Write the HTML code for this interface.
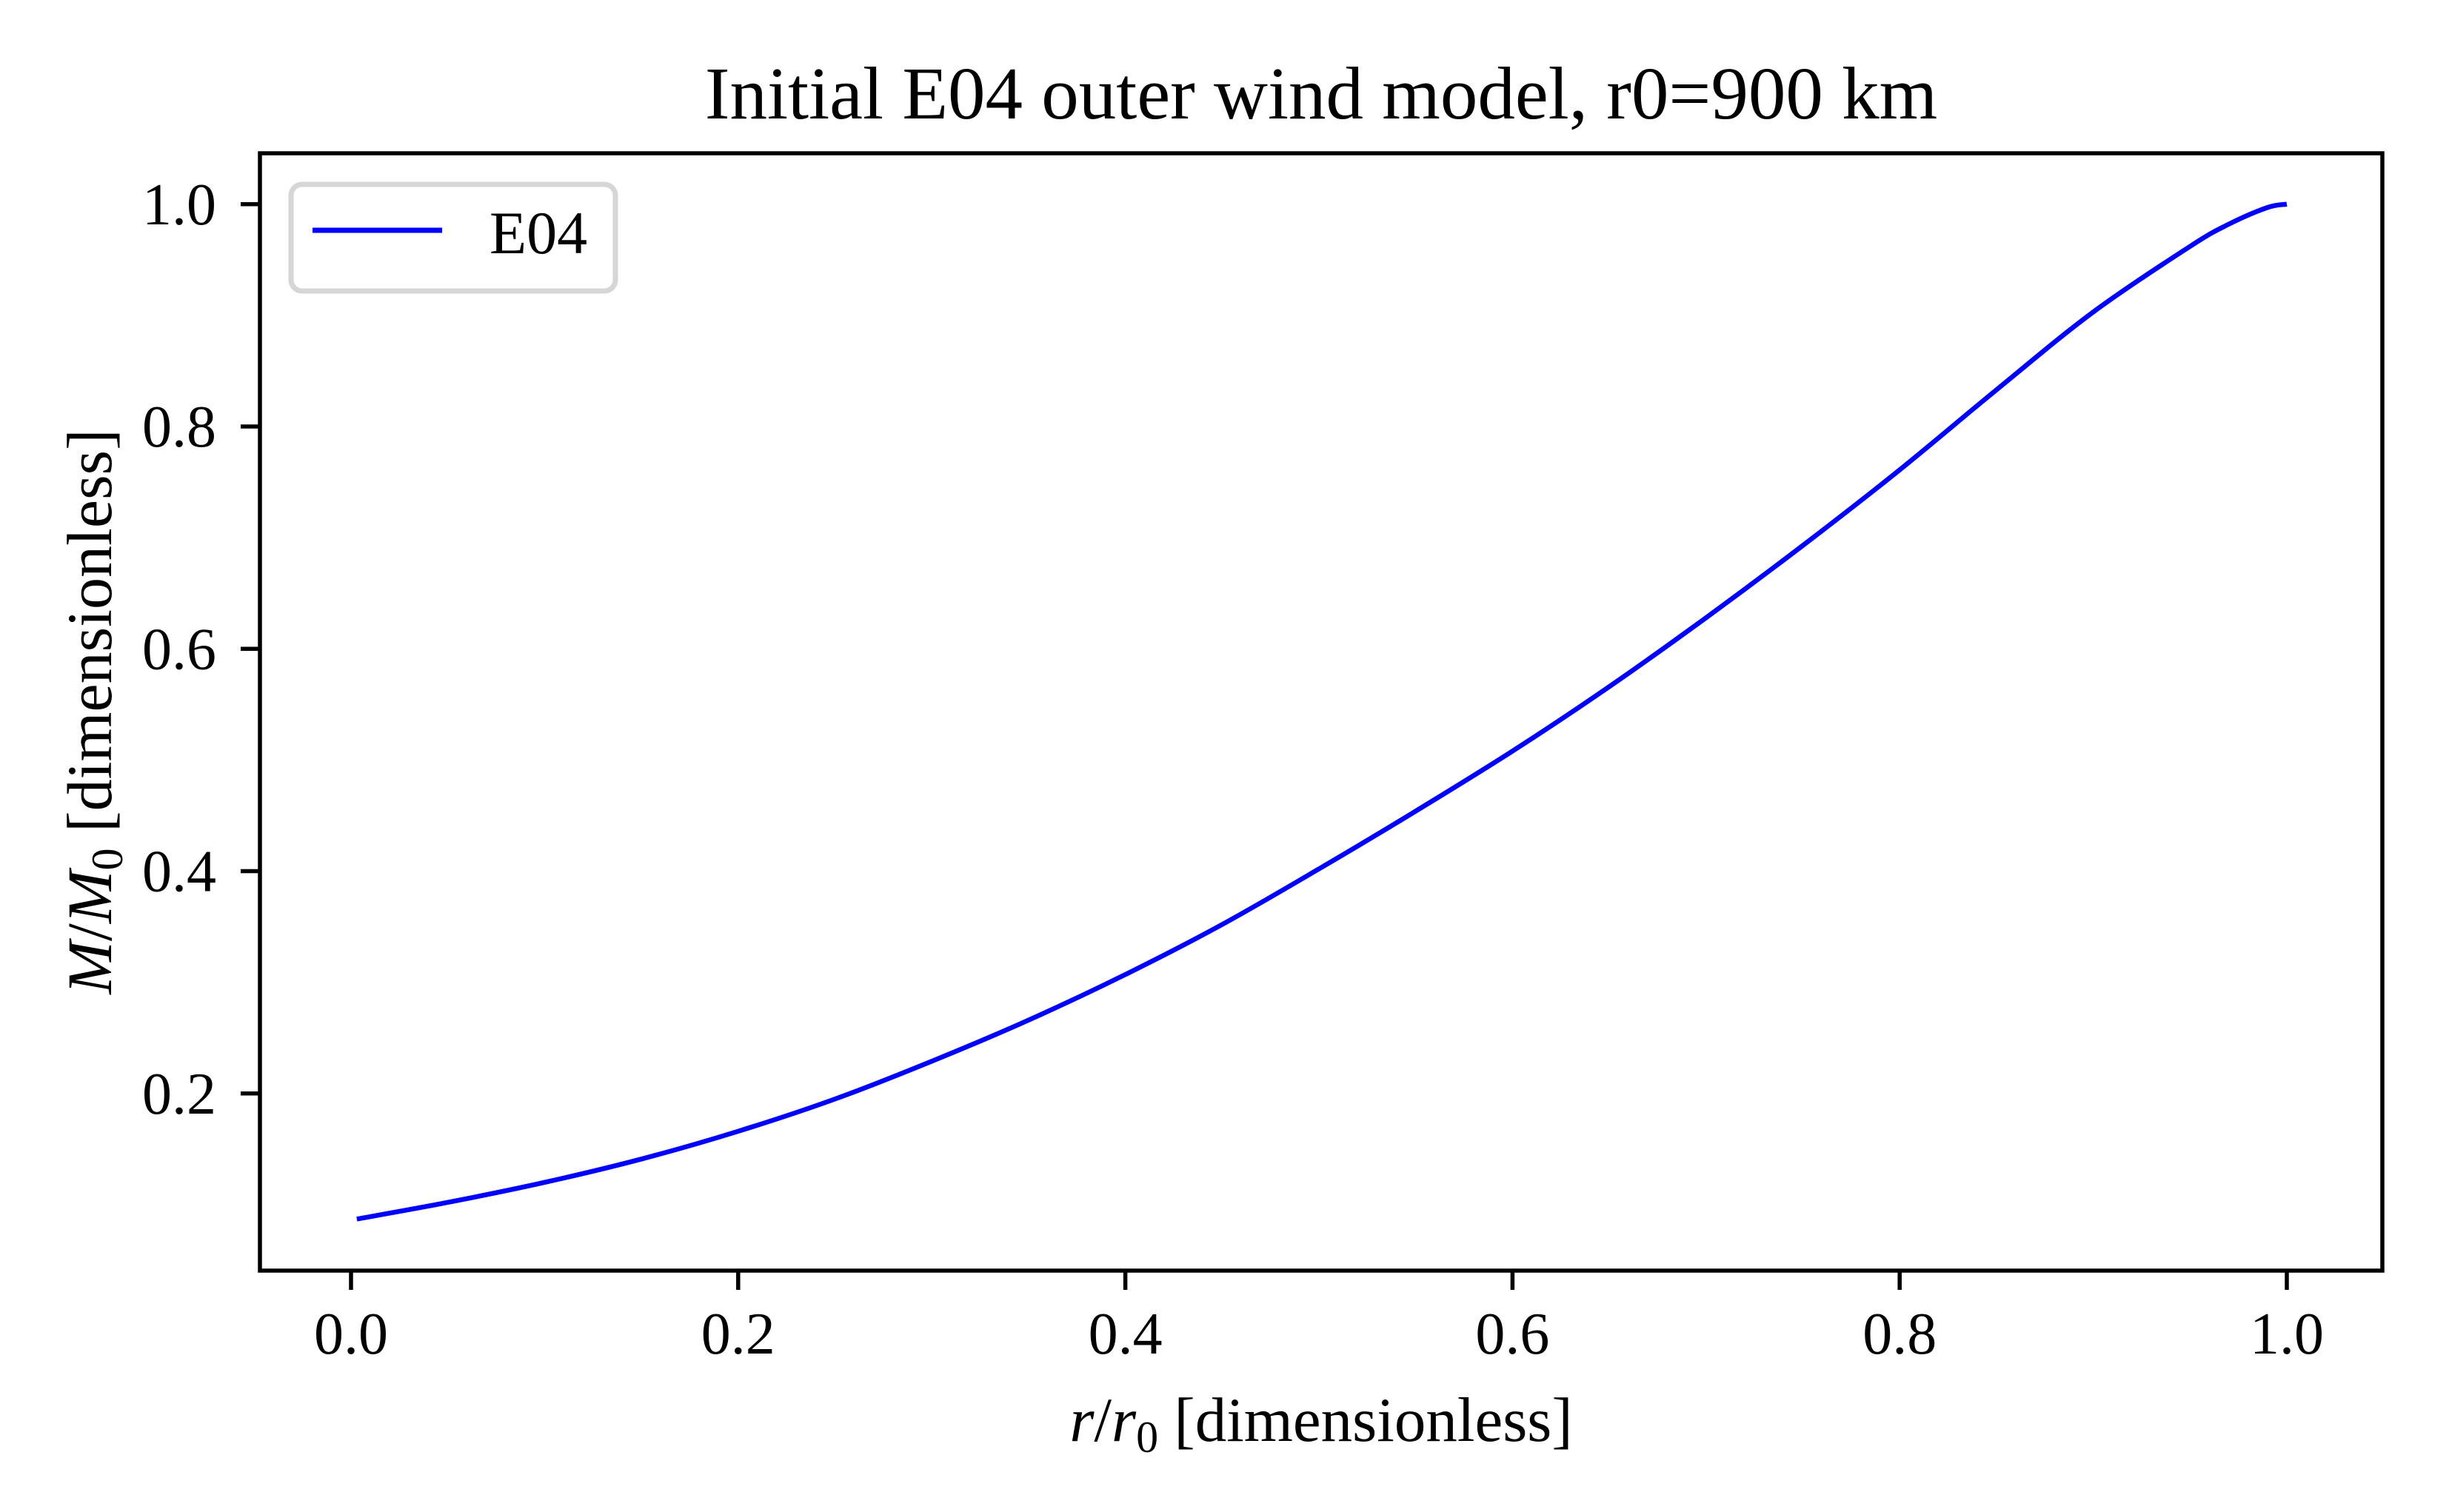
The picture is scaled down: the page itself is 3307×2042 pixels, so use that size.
<!DOCTYPE html>
<html><head><meta charset="utf-8"><style>
html,body{margin:0;padding:0;background:#fff;}
svg{display:block;font-family:"Liberation Serif",serif;}
</style></head><body>
<svg id="chart" width="3307" height="2042" viewBox="0 0 3307 2042" xmlns="http://www.w3.org/2000/svg">
<rect width="3307" height="2042" fill="#fff"/>
<text x="1784" y="160" font-size="101" text-anchor="middle">Initial E04 outer wind model, r0=900 km</text>
<g id="plot"></g>
<g id="axes"></g>
<text x="1784" y="1946" font-size="85" text-anchor="middle"><tspan font-style="italic">r</tspan>/<tspan font-style="italic">r</tspan><tspan font-size="60" dy="15">0</tspan><tspan dy="-15"> [dimensionless]</tspan></text>
<text transform="translate(150,961) rotate(-90)" font-size="86" text-anchor="middle"><tspan font-style="italic">M</tspan>/<tspan font-style="italic">M</tspan><tspan font-size="60" dy="15">0</tspan><tspan dy="-15"> [dimensionless]</tspan></text>
<g>
<rect x="393" y="249" width="438" height="144" rx="15" fill="#fff" stroke="#d6d6d6" stroke-width="7"/>
<line x1="422" y1="311" x2="597" y2="311" stroke="#0000ff" stroke-width="7"/>
<text x="661" y="342" font-size="82">E04</text>
</g>
</svg>
<script>
const xValues=[0.003,0.05,0.1,0.15,0.2,0.25,0.3,0.35,0.4,0.45,0.5,0.55,0.6,0.65,0.7,0.75,0.8,0.85,0.9,0.95,0.97,0.99,1.0];
const yValues=[0.087,0.102,0.12,0.141,0.166,0.195,0.229,0.266,0.307,0.352,0.402,0.454,0.508,0.566,0.628,0.693,0.761,0.833,0.903,0.962,0.982,0.997,1.0];
const xTicks=[0.0,0.2,0.4,0.6,0.8,1.0];
const yTicks=[0.2,0.4,0.6,0.8,1.0];
const xTickLabels=["0.0","0.2","0.4","0.6","0.8","1.0"];
const yTickLabels=["0.2","0.4","0.6","0.8","1.0"];
const L=351,R=3217,T=207,B=1716;
function sx(v){return 474+v*(3088-474);}
function sy(v){return 1777-v*1501.25;}
const NS="http://www.w3.org/2000/svg";
const plot=document.getElementById('plot');
const axes=document.getElementById('axes');
const pts=xValues.map((x,i)=>[sx(x),sy(yValues[i])]);
let d="M"+pts[0][0]+","+pts[0][1];
for(let i=0;i<pts.length-1;i++){
  const p0=pts[Math.max(0,i-1)],p1=pts[i],p2=pts[i+1],p3=pts[Math.min(pts.length-1,i+2)];
  const c1x=p1[0]+(p2[0]-p0[0])/6,c1y=p1[1]+(p2[1]-p0[1])/6;
  const c2x=p2[0]-(p3[0]-p1[0])/6,c2y=p2[1]-(p3[1]-p1[1])/6;
  d+=" C"+c1x+","+c1y+" "+c2x+","+c2y+" "+p2[0]+","+p2[1];
}
const path=document.createElementNS(NS,'path');
path.setAttribute('d',d);path.setAttribute('fill','none');path.setAttribute('stroke','#0000ff');path.setAttribute('stroke-width','6.5');


plot.appendChild(path);
const frame=document.createElementNS(NS,'rect');
frame.setAttribute('x',L);frame.setAttribute('y',T);frame.setAttribute('width',R-L);frame.setAttribute('height',B-T);
frame.setAttribute('fill','none');frame.setAttribute('stroke','#000');frame.setAttribute('stroke-width','5.5');


axes.appendChild(frame);
xTicks.forEach((v,i)=>{
  const t=document.createElementNS(NS,'line');
  t.setAttribute('x1',sx(v));t.setAttribute('x2',sx(v));t.setAttribute('y1',B);t.setAttribute('y2',B+26);
  t.setAttribute('stroke','#000');t.setAttribute('stroke-width','5.5');
  
  
  axes.appendChild(t);
  const tx=document.createElementNS(NS,'text');
  tx.setAttribute('x',sx(v));tx.setAttribute('y',1828);tx.setAttribute('font-size','80');tx.setAttribute('text-anchor','middle');
  tx.textContent=xTickLabels[i];
  
  
  axes.appendChild(tx);
});
yTicks.forEach((v,i)=>{
  const t=document.createElementNS(NS,'line');
  t.setAttribute('x1',L-26);t.setAttribute('x2',L);t.setAttribute('y1',sy(v));t.setAttribute('y2',sy(v));
  t.setAttribute('stroke','#000');t.setAttribute('stroke-width','5.5');
  
  
  axes.appendChild(t);
  const tx=document.createElementNS(NS,'text');
  tx.setAttribute('x',292);tx.setAttribute('y',sy(v)+27);tx.setAttribute('font-size','80');tx.setAttribute('text-anchor','end');
  tx.textContent=yTickLabels[i];
  
  
  axes.appendChild(tx);
});
</script>
</body></html>
